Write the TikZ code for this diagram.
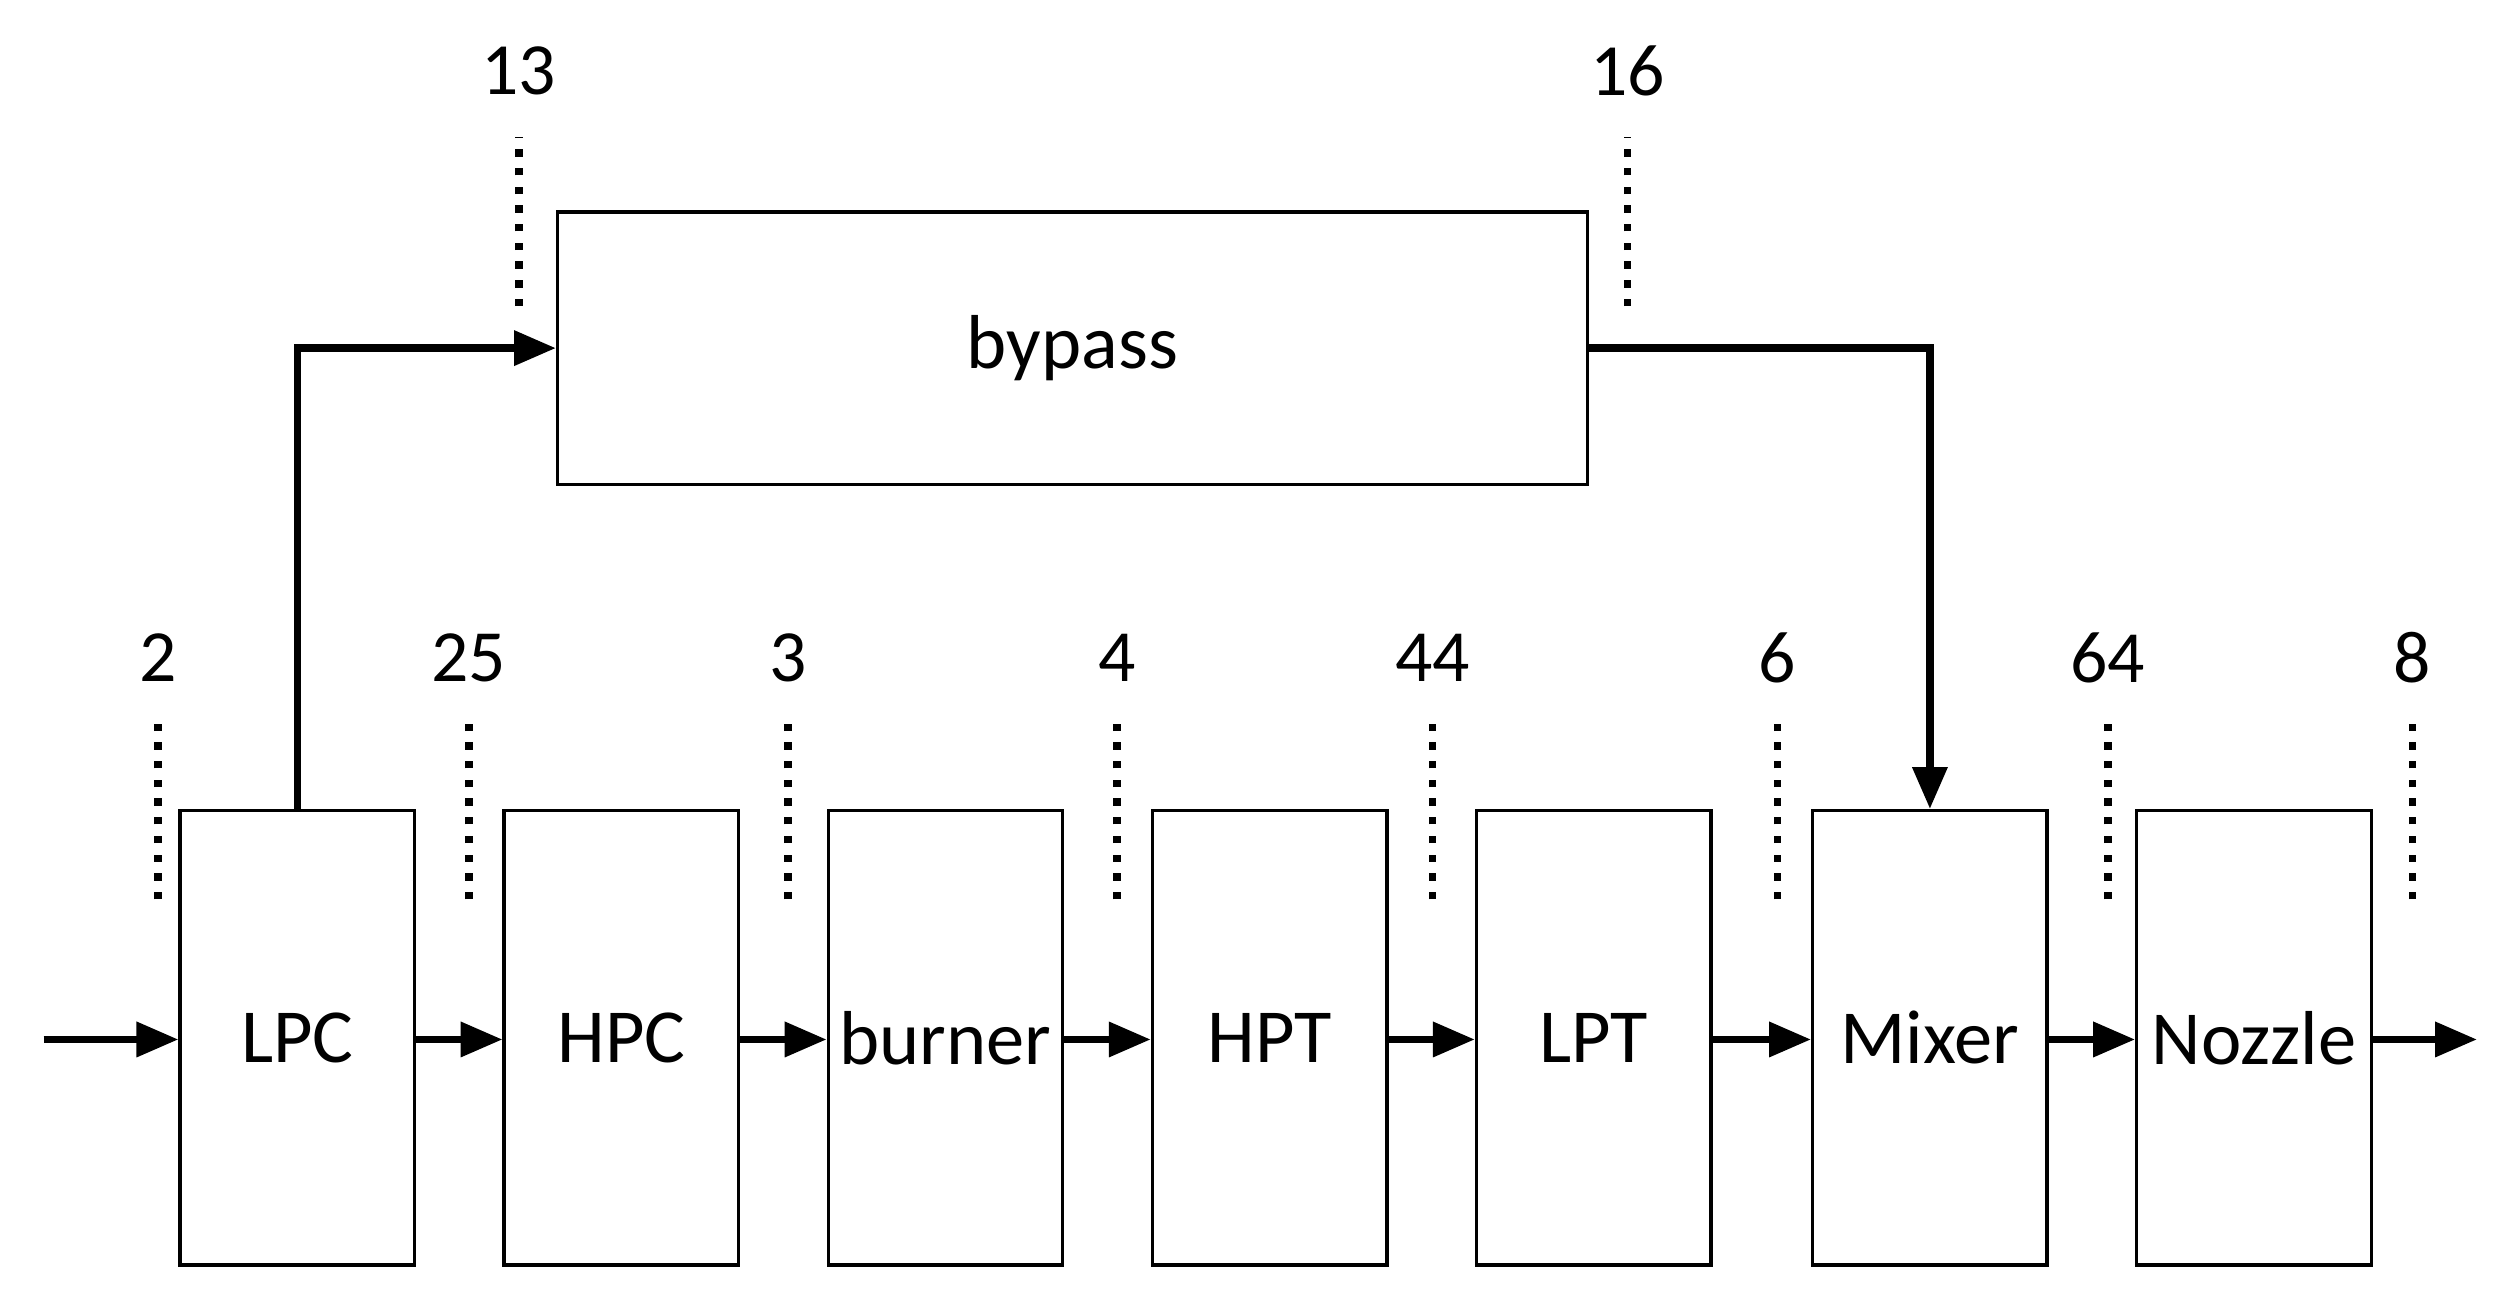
\documentclass[tikz,border=0pt]{standalone}
\usepackage{fontspec}
\setmainfont{Carlito}
\usetikzlibrary{arrows.meta,positioning}
\tikzset{
	% engine component boxes
	comp/.style={draw,line width=0.6pt,minimum width=1.455cm,minimum height=2.82cm,inner sep=0pt},
	flow/.style={line width=1.3pt,-{Triangle[length=0.26cm,width=0.21cm]}},
	station/.style={dotted,line width=1.3pt},
	stnum/.style={font=\fontsize{13}{15}\selectfont}
}
\begin{document}
\begin{tikzpicture}[font=\fontsize{13.5}{16}\selectfont]
	\useasboundingbox (0,0) rectangle (15.60,8.10);
	% components
	\node[comp] (lpc) at (1.845,1.66) {LPC};
	\node[comp,right=0.535cm of lpc] (hpc) {HPC};
	\node[comp,right=0.535cm of hpc] (burner) {burner};
	\node[comp,right=0.535cm of burner] (hpt) {HPT};
	\node[comp,right=0.535cm of hpt] (lpt) {LPT};
	\node[comp,right=0.61cm of lpt] (mixer) {Mixer};
	\node[comp,right=0.535cm of mixer] (nozzle) {Nozzle};
	\node[draw,line width=0.6pt,minimum width=6.39cm,minimum height=1.69cm] (bypass) at (6.655,5.94) {bypass};
	% main flow
	\coordinate (in) at (0.27,1.65);
	\coordinate (out) at (15.37,1.65);
	\draw[flow] (in) -- (lpc.west|-in);
	\foreach \a/\b in {lpc/hpc,hpc/burner,burner/hpt,hpt/lpt,lpt/mixer,mixer/nozzle}
		\draw[flow] (\a.east|-in) -- (\b.west|-in);
	\draw[flow] (nozzle.east|-in) -- (out);
	% bypass duct
	\draw[flow] (lpc.north) |- (bypass.west);
	\draw[flow] (bypass.east) -| (mixer.north);
	% station numbers
	\foreach \x/\t in {0.98/2,2.91/25,4.89/3,6.93/4,8.89/44,11.03/6,13.08/64,14.97/8}{
		\draw[station] (\x,2.52) -- (\x,3.65);
		\node[stnum] (s\t) at (\x,4.02) {\t};
	}
	\foreach \x/\t in {3.22/13,10.10/16}{
		\draw[station] (\x,6.20) -- (\x,7.25);
		\node[stnum] (s\t) at (\x,7.66) {\t};
	}
\end{tikzpicture}
\end{document}
